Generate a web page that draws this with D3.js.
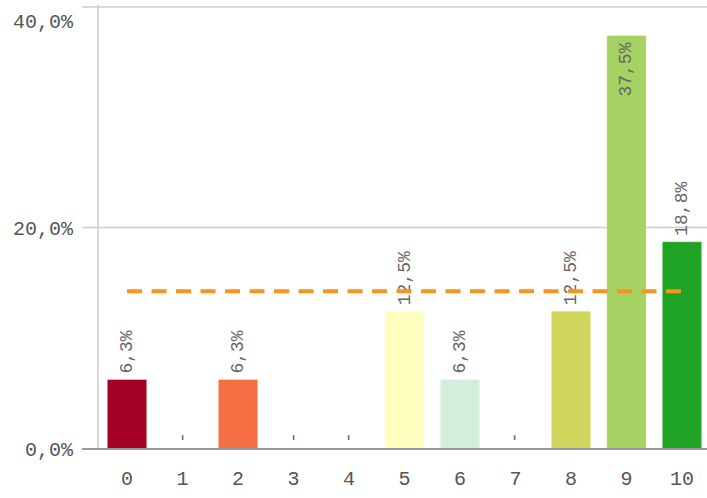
<!DOCTYPE html>
<html>
<head>
<meta charset="utf-8">
<script src="https://cdn.jsdelivr.net/npm/d3@7"></script>
<style>
  html, body { margin: 0; padding: 0; background: #fff; }
  svg { display: block; }
  text { font-family: "Liberation Mono", "DejaVu Sans Mono", monospace; }
</style>
</head>
<body>
<svg id="chart" width="707" height="498"></svg>
<script>
// Score distribution (share of responses per score, in %)
const categories = ["0", "1", "2", "3", "4", "5", "6", "7", "8", "9", "10"];
const shares = [6.3, 0, 6.3, 0, 0, 12.5, 6.3, 0, 12.5, 37.5, 18.8];
const barColors = ["#a50026", "#f46d43", "#f46d43", "#fdae61", "#fee08b", "#ffffc0",
                   "#d3eedb", "#d9ef8b", "#cfd65b", "#a6d163", "#1fa324"];
const yTicks = [0, 20, 40];
const averageShare = 14.3;

const svg = d3.select("#chart");
const W = 707;
const baseY = 449, topY = 8;
const axisX = 98;

const x = d3.scaleBand()
  .domain(categories)
  .range([axisX, 711])
  .paddingInner(0.29)
  .paddingOuter(0.168);

const y = d3.scaleLinear().domain([0, 40]).range([baseY, topY]);

const fmt = v => d3.format(".1f")(v).replace(".", ",") + "%";

// gridlines
svg.append("g")
  .selectAll("line")
  .data(yTicks.filter(t => t > 0))
  .join("line")
  .attr("x1", 82).attr("x2", W)
  .attr("y1", d => y(d) - 1).attr("y2", d => y(d) - 1)
  .attr("stroke", "#cccccc").attr("stroke-width", 1.5);

// vertical axis line
svg.append("line")
  .attr("x1", axisX).attr("x2", axisX)
  .attr("y1", 5).attr("y2", baseY)
  .attr("stroke", "#cccccc").attr("stroke-width", 1.5);

// y tick labels (the top one is kept inside the frame)
const yAxis = d3.axisLeft(y).tickValues(yTicks).tickSize(0).tickPadding(0)
  .tickFormat(fmt);
const gy = svg.append("g").attr("transform", "translate(73,0)").call(yAxis);
gy.select(".domain").remove();
gy.selectAll("text")
  .attr("fill", "#555").attr("font-size", 20)
  .attr("dy", d => d === 40 ? "0.95em" : "0.32em");

// bars
svg.append("g")
  .selectAll("rect")
  .data(shares)
  .join("rect")
  .attr("x", (d, i) => x(categories[i]))
  .attr("width", x.bandwidth())
  .attr("y", d => y(d))
  .attr("height", d => baseY - y(d))
  .attr("fill", (d, i) => barColors[i])
  .attr("stroke", "rgba(255,255,255,0.35)")
  .attr("stroke-width", 1);

// baseline
svg.append("line")
  .attr("x1", 82).attr("x2", W)
  .attr("y1", baseY).attr("y2", baseY)
  .attr("stroke", "#999").attr("stroke-width", 2);

// x tick labels
const xAxis = d3.axisBottom(x).tickSize(0).tickPadding(0);
const gx = svg.append("g").attr("transform", `translate(0,${baseY + 22})`).call(xAxis);
gx.select(".domain").remove();
gx.selectAll("text")
  .attr("fill", "#555").attr("font-size", 20);

// value labels, rotated; placed inside the bar when no room above
const labelSize = 18;
const labelLen = s => s.length * labelSize * 0.6;
svg.append("g")
  .selectAll("text")
  .data(shares)
  .join("text")
  .attr("font-size", labelSize)
  .attr("fill", "#666")
  .attr("dominant-baseline", "central")
  .each(function (d, i) {
    const txt = d === 0 ? "-" : fmt(d);
    const cx = x(categories[i]) + x.bandwidth() / 2;
    const top = y(d);
    const inside = top - 6 - labelLen(txt) < 0;
    const py = inside ? top + 7 : top - 6;
    d3.select(this)
      .text(txt)
      .attr("text-anchor", inside ? "end" : "start")
      .attr("transform", `translate(${cx},${py}) rotate(-90)`);
  });

// average reference line
const first = categories[0], last = categories[categories.length - 1];
svg.append("line")
  .attr("x1", x(first) + x.bandwidth() / 2)
  .attr("x2", x(last) + x.bandwidth() / 2)
  .attr("y1", y(averageShare)).attr("y2", y(averageShare))
  .attr("stroke", "#f7941d").attr("stroke-width", 4)
  .attr("stroke-dasharray", "15 9.5");
</script>
</body>
</html>
